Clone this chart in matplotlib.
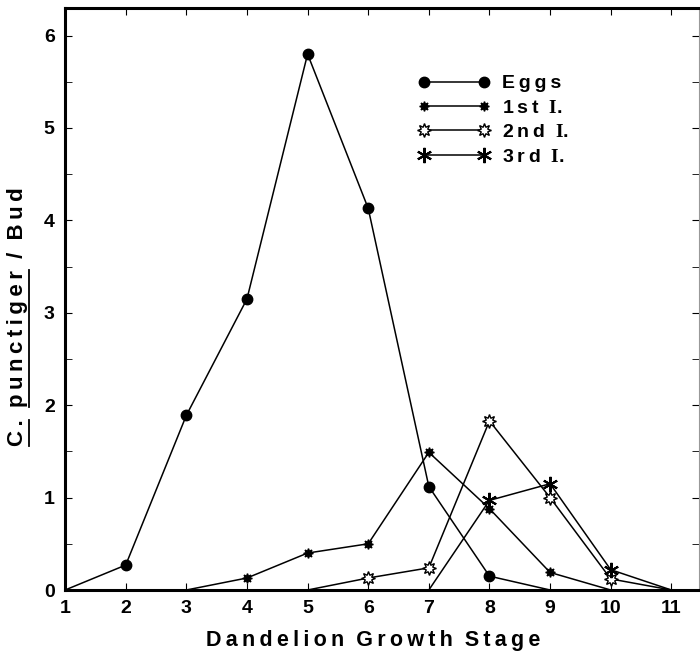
#!/usr/bin/env python3

import numpy as np
import matplotlib
matplotlib.use('Agg')
import matplotlib.pyplot as plt
from matplotlib.ticker import MultipleLocator
from matplotlib.lines import Line2D

plt.rcParams['font.family'] = ['Liberation Sans', 'DejaVu Sans']
plt.rcParams['font.weight'] = 'bold'
plt.rcParams['mathtext.fontset'] = 'custom'
plt.rcParams['mathtext.rm'] = 'Liberation Serif'
plt.rcParams['mathtext.bf'] = 'Liberation Serif:bold'

# growth stages and counts per bud
eggs_x = [1, 2, 3, 4, 5, 6, 7, 8, 9]
eggs_y = [0, 0.27, 1.89, 3.15, 5.8, 4.13, 1.12, 0.15, 0]

first_x = [3, 4, 5, 6, 7, 8, 9, 10]
first_y = [0, 0.13, 0.4, 0.5, 1.49, 0.88, 0.19, 0]

second_x = [5, 6, 7, 8, 9, 10, 11]
second_y = [0, 0.13, 0.24, 1.83, 1.0, 0.12, 0]

third_x = [7, 8, 9, 10, 11]
third_y = [0, 0.97, 1.15, 0.22, 0]

labels = ['Eggs', '1st', '2nd', '3rd']

TS = '\u2009'  # thin space used as letter spacing


def spaced(s):
    # spread the letters of each word, words get a wider gap
    return '  '.join(TS.join(w) for w in s.split(' '))


def underline_ylabel(fig, ax, parts):
    # parts: list of (substring, underline?) making the ylabel text
    fig.canvas.draw()
    r = fig.canvas.get_renderer()
    lab = ax.yaxis.label
    bb = lab.get_window_extent(r)
    prop = lab.get_fontproperties()
    full = ''.join(p for p, _ in parts)
    total, _, _ = r.get_text_width_height_descent(full, prop, ismath=False)
    start = (bb.y0 + bb.y1) / 2 - total / 2
    pos = ''
    for text, under in parts:
        w0 = r.get_text_width_height_descent(pos, prop, ismath=False)[0] if pos else 0
        pos += text
        if under:
            w1 = r.get_text_width_height_descent(pos, prop, ismath=False)[0]
            x = bb.x1 + 1
            fig.add_artist(Line2D([x, x], [start + w0, start + w1], color='black', lw=1.3,
                                  transform=None))


def main():
    fig = plt.figure(figsize=(7, 6.56), dpi=100)
    ax = fig.add_axes([0.093, 0.1006, 0.905, 0.8874])

    series = [
        (eggs_x, eggs_y, dict(marker='o', ms=7.5, mfc='black', mec='black')),
        (first_x, first_y, dict(marker=(8, 1, 0), ms=7, mfc='black', mec='black')),
        (second_x, second_y, dict(marker=(8, 1, 0), ms=10, mfc='white', mec='black', mew=1.0)),
        (third_x, third_y, dict(marker=(6, 2, 0), ms=11, mec='black', mew=1.5)),
    ]
    handles = []
    for (x, y, mk), lab in zip(series, labels):
        x = np.asarray(x)
        y = np.asarray(y)
        ax.plot(x, y, color='black', lw=1.1)
        nz = y > 0
        ax.plot(x[nz], y[nz], ls='none', **mk)
        handles.append(Line2D([], [], color='black', lw=1.1, **mk))

    ax.set_xlim(1, 11.45)
    ax.set_ylim(0, 6.3)
    ax.xaxis.set_major_locator(MultipleLocator(1))
    ax.yaxis.set_major_locator(MultipleLocator(1))
    ax.yaxis.set_minor_locator(MultipleLocator(0.5))
    ax.tick_params(which='both', direction='in', top=True, right=True, labelsize=14, pad=7.5)
    ax.tick_params(which='major', length=5)
    ax.tick_params(which='minor', length=5)
    for s in ['left', 'bottom', 'top']:
        ax.spines[s].set_linewidth(2.2)
    ax.spines['right'].set_linewidth(0.8)
    ax.spines['right'].set_color('0.6')

    ax.set_xlabel(spaced('Dandelion Growth Stage'), fontsize=15.5, fontweight='bold')
    ax.xaxis.set_label_coords(0.487, -0.068)

    yparts = [(spaced('C.'), True), ('  ', False), (spaced('punctiger'), True),
              ('  /  ', False), (spaced('Bud'), False)]
    ax.set_ylabel(''.join(p for p, _ in yparts), fontsize=16, fontweight='bold')
    ax.yaxis.set_label_coords(-0.058, 0.469)

    leg_labels = [spaced(labels[0])] + [spaced(l) + '  ' + r'$\mathbf{I}$.' for l in labels[1:]]
    ax.legend(handles, leg_labels, loc='upper left', bbox_to_anchor=(0.53, 0.915), frameon=False,
              numpoints=2, handlelength=3.7, labelspacing=0.35, fontsize=14, handletextpad=0.6)

    underline_ylabel(fig, ax, yparts)

    fig.savefig('out.png', dpi=100)


if __name__ == '__main__':
    main()
